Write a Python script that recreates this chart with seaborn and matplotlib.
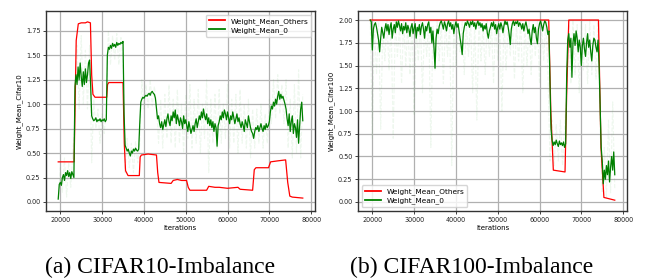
import numpy as np
import pandas as pd
import matplotlib
matplotlib.use("Agg")
import matplotlib.pyplot as plt
import seaborn as sns

# ---------------- data ----------------
# CIFAR10 - smoothed Weight_Mean_Others (breakpoints)
c10_others_iters = [19500, 23300, 23500, 23800, 24300, 25000, 26000, 26500, 27200, 27500,
                    27800, 28300, 31100, 31300, 31600, 33000, 35000, 35300, 35600, 36200,
                    38900, 39100, 39400, 41000, 43000, 43300, 43600, 46500, 47000, 48000,
                    49000, 50200, 50600, 51000, 53000, 55000, 55500, 57000, 58000, 60000,
                    62500, 63000, 66000, 66400, 66800, 68000, 69800, 70300, 72000, 73900,
                    74400, 74900, 75500, 78000]
c10_others_vals = [0.41, 0.41, 0.90, 1.65, 1.82, 1.83, 1.83, 1.84, 1.83, 1.30,
                   1.10, 1.07, 1.07, 1.20, 1.22, 1.22, 1.22, 0.60, 0.32, 0.27,
                   0.27, 0.46, 0.48, 0.49, 0.48, 0.30, 0.20, 0.19, 0.22, 0.23,
                   0.22, 0.22, 0.15, 0.12, 0.12, 0.12, 0.16, 0.15, 0.15, 0.14,
                   0.15, 0.13, 0.12, 0.33, 0.35, 0.35, 0.35, 0.41, 0.42, 0.43,
                   0.20, 0.06, 0.05, 0.04]

# CIFAR10 - smoothed Weight_Mean_0, every 250 iterations from 19500 to 78000
c10_zero_vals = [
    0.03, 0.18, 0.20, 0.17, 0.25, 0.28, 0.22, 0.30, 0.27, 0.32, 0.26, 0.30, 0.24, 0.31, 0.28, 0.25,
    1.18, 1.30, 1.20, 1.38, 1.25, 1.42, 1.28, 1.18, 1.33, 1.20, 1.36, 1.22, 1.30, 1.42, 1.45, 1.20,
    0.88, 0.85, 0.83, 0.84, 0.86, 0.82, 0.84, 0.83, 0.85, 0.82, 0.84, 0.83, 0.85, 0.82, 0.84,
    1.50, 1.58, 1.56, 1.60, 1.57, 1.62, 1.59, 1.61, 1.58, 1.63, 1.60, 1.62, 1.61, 1.63, 1.62, 1.64,
    0.90, 0.58, 0.55, 0.52, 0.54, 0.50, 0.47, 0.52, 0.50, 0.54, 0.52, 0.55, 0.53, 0.52, 0.54,
    0.80, 1.02, 1.05, 1.07, 1.06, 1.08, 1.09, 1.08, 1.10, 1.11, 1.09, 1.12, 1.13, 1.11, 1.10, 1.06,
    0.95, 0.85, 0.88, 0.80, 0.76, 0.82, 0.74, 0.79, 0.84, 0.77, 0.85, 0.90, 0.82, 0.78, 0.88, 0.83,
    0.92, 0.86, 0.94, 0.80, 0.89, 0.84, 0.78, 0.86, 0.82, 0.75, 0.88, 0.80, 0.84, 0.78, 0.72, 0.82,
    0.76, 0.70, 0.74, 0.78, 0.72, 0.80, 0.85, 0.76, 0.82, 0.88, 0.84, 0.92, 0.86, 0.95, 0.88, 0.84,
    0.90, 0.80, 0.86, 0.78, 0.84, 0.76, 0.82, 0.72, 0.80, 0.76, 0.57, 0.78, 0.82, 0.88, 0.84, 0.92,
    0.86, 0.94, 0.90, 0.84, 0.92, 0.86, 0.80, 0.88, 0.84, 0.92, 0.86, 0.80, 0.85, 0.90, 0.82, 0.86,
    0.80, 0.76, 0.82, 0.78, 0.72, 0.84, 0.80, 0.76, 0.88, 0.82, 0.76, 0.72, 0.70,
    0.65, 0.72, 0.76, 0.74, 0.78, 0.72, 0.76, 0.80, 0.75, 0.72, 0.78, 0.74, 0.80, 0.76, 0.78, 0.82,
    0.92, 0.98, 0.95, 1.02, 0.98, 1.05, 1.00, 1.08, 1.13, 1.05, 1.10, 1.06, 1.08, 1.04, 1.00, 0.95,
    0.85, 0.78, 0.90, 0.72, 0.82, 0.88, 0.70, 0.80, 0.76, 0.66, 0.84, 0.60, 0.78, 0.95, 1.02, 0.83,
]

# CIFAR10 - raw (faint) Weight_Mean_0, every 500 iterations from 19500 to 78000
c10_zero_raw = [
    0.02, 0.35, 0.10, 0.45, 0.05, 0.40, 0.15, 0.50,
    0.90, 1.60, 0.95, 1.70, 1.00, 1.55, 0.95, 1.60,
    0.40, 1.05, 0.75, 0.95, 0.60, 0.90, 0.70, 0.95,
    1.75, 1.40, 1.70, 1.45, 1.72, 1.40, 1.68, 1.45,
    0.30, 0.65, 0.35, 0.60, 0.30, 0.62, 0.40,
    0.60, 1.25, 0.95, 1.20, 0.95, 1.25, 0.98, 1.18,
    1.00, 0.60, 1.05, 0.55, 1.10, 0.65, 1.20, 0.60, 1.05, 0.55,
    1.15, 0.60, 1.00, 0.50, 1.10, 0.65, 1.20, 0.55, 1.05, 0.60,
    1.15, 0.50, 1.00, 0.65, 1.25, 0.30, 1.05, 0.60, 1.10, 0.55,
    1.15, 0.60, 1.00, 0.65, 1.20, 0.55, 1.05, 0.60, 1.10, 0.50,
    1.15, 0.60, 1.00, 0.55, 1.05, 0.45, 0.95,
    0.55, 0.95, 0.60, 1.00, 0.55, 0.90, 0.60, 1.05,
    0.80, 1.25, 0.85, 1.30, 0.90, 1.20, 0.80, 1.25,
    0.55, 1.05, 0.45, 1.20, 0.50, 1.35, 0.45, 1.10,
]

# CIFAR100 - smoothed Weight_Mean_Others (breakpoints)
c100_others_iters = [19500, 30000, 45000, 62200, 62700, 63300, 66100, 66500, 67000,
                     70000, 74100, 74700, 75400, 78000]
c100_others_vals = [2.00, 2.00, 2.00, 2.00, 1.00, 0.35, 0.33, 1.20, 2.00,
                    2.00, 2.00, 0.60, 0.05, 0.02]

# CIFAR100 - smoothed Weight_Mean_0, every 250 iterations from 19500 to 78000
c100_zero_vals = [
    2.00, 1.98, 1.67, 1.90, 1.95, 1.97, 1.92, 1.85, 1.78, 1.65, 1.80, 1.92, 1.86, 1.80, 1.90, 1.96,
    1.88, 1.95, 1.84, 1.92, 1.97, 1.80, 1.90, 1.95, 1.86, 1.98, 1.92, 1.99, 1.94, 1.88, 1.96, 1.85,
    1.93, 1.89, 1.97, 1.86, 1.94, 1.90, 1.82, 1.92, 1.96, 1.85, 1.91, 1.96, 1.80, 1.92, 1.88, 1.95,
    1.84, 1.93, 1.97, 1.90, 1.80, 1.93, 1.88, 1.95, 1.98, 1.86, 1.92, 1.75, 1.88, 1.70, 1.47, 1.80,
    1.90, 1.85, 1.93, 1.97, 1.99, 1.95, 1.90, 1.98, 1.94, 1.88, 1.96, 1.99, 1.93, 1.97, 1.90, 1.95,
    1.85, 1.93, 1.98, 1.92, 1.96, 1.88, 1.80, 1.72, 1.62, 1.85, 1.92, 1.97, 1.94, 1.99, 1.96, 1.92,
    1.98, 1.95, 1.99, 1.93, 1.97, 1.90, 1.96, 1.99, 1.94, 1.97, 1.92, 1.96, 1.88, 1.94, 1.90, 1.96,
    1.86, 1.80, 1.88, 1.92, 1.97, 1.93, 1.98, 1.90, 1.95, 1.85, 1.92, 1.96, 1.90, 1.97, 1.93, 1.86,
    1.94, 1.99, 1.95, 1.98, 1.92, 1.84, 1.73, 1.90, 1.96, 1.99, 1.94, 1.98, 1.96, 1.99, 1.93, 1.97,
    1.95, 1.90, 1.96, 1.88, 1.94, 1.98, 1.92, 1.85, 1.90, 1.80, 1.73, 1.88, 1.95, 1.86, 1.92, 1.80,
    1.74, 1.90, 1.96, 1.99, 1.94, 1.88, 1.95, 1.99, 1.97, 1.92, 1.84, 1.88,
    1.30, 0.80, 0.68, 0.62, 0.66, 0.63, 0.68, 0.64, 0.61, 0.67, 0.63, 0.65, 0.62, 0.66, 0.60, 0.64,
    1.40, 1.78, 1.85, 1.70, 1.80, 1.37, 1.75, 1.85, 1.72, 1.88, 1.80, 1.65, 1.78, 1.70, 1.50, 1.72,
    1.80, 1.68, 1.60, 1.75, 1.85, 1.70, 1.78, 1.65, 1.55, 1.72, 1.80, 1.78, 1.70, 1.65, 1.78,
    1.50, 1.05, 0.60, 0.45, 0.20, 0.35, 0.25, 0.40, 0.30, 0.45, 0.22, 0.38, 0.50, 0.35, 0.55, 0.30,
]

# CIFAR100 - raw (faint) Weight_Mean_0, every 500 iterations from 19500 to 78000
c100_zero_raw = [
    2.00, 0.70, 1.95, 1.40, 1.98, 0.80, 1.90, 1.55, 2.00, 1.45,
    1.96, 0.70, 1.99, 1.60, 1.92, 1.30, 2.00, 1.50, 1.95, 1.40,
    1.98, 0.95, 1.90, 1.55, 2.00, 1.20, 1.96, 1.60, 1.99, 0.60,
    1.93, 1.45, 2.00, 1.55, 1.97, 1.30, 1.99, 1.60, 1.94, 0.40,
    2.00, 1.50, 1.96, 1.65, 1.98, 1.40, 1.95, 1.60, 2.00, 1.20,
    1.97, 0.90, 1.99, 1.55, 1.94, 1.40, 2.00, 1.60, 1.96, 1.30,
    1.98, 1.55, 1.93, 1.00, 2.00, 1.45, 1.97, 1.60, 1.99, 1.35,
    1.95, 1.55, 2.00, 1.20, 1.96, 1.50, 1.99, 1.40, 1.94, 1.60,
    2.00, 1.30, 1.97, 1.55, 1.99, 1.45,
    0.45, 0.90, 0.40, 0.85, 0.45, 0.90, 0.40, 0.80,
    1.20, 1.95, 1.30, 2.00, 1.40, 1.95, 1.20, 1.98, 1.45, 1.95, 1.30, 2.00, 1.40, 1.95, 1.35, 1.98,
    0.80, 0.10, 0.60, 0.05, 0.90, 0.10, 1.10, 0.15,
]

start_iter, end_iter = 19500, 78000
ylabels = ["Weight_Mean_Cifar10", "Weight_Mean_Cifar100"]
captions = ["(a) CIFAR10-Imbalance", "(b) CIFAR100-Imbalance"]
series_names = ["Weight_Mean_Others", "Weight_Mean_0"]

# ---------------- figure ----------------
plt.rcParams["font.family"] = ["DejaVu Sans"]
fig = plt.figure(figsize=(6.52, 2.79), dpi=100)
ax1 = fig.add_axes([46 / 652, 1 - 211 / 279, 269 / 652, 200 / 279])
ax2 = fig.add_axes([358 / 652, 1 - 211 / 279, 269 / 652, 200 / 279])

panels = [
    (ax1, c10_others_iters, c10_others_vals, c10_zero_vals, c10_zero_raw, "upper right", (-0.092, 1.951)),
    (ax2, c100_others_iters, c100_others_vals, c100_zero_vals, c100_zero_raw, "lower left", (-0.099, 2.099)),
]

for i, (ax, oi, ov, zv, zr, loc, ylim) in enumerate(panels):
    zx = np.linspace(start_iter, end_iter, len(zv))
    rx = np.linspace(start_iter, end_iter, len(zr))
    # faint raw curve
    sns.lineplot(x=rx, y=zr, ax=ax, color="#5cb85c", alpha=0.10, lw=0.8,
                 linestyle="--", legend=False)
    sns.lineplot(x=oi, y=ov, ax=ax, color="red", lw=0.9, label=series_names[0])
    sns.lineplot(x=zx, y=zv, ax=ax, color="green", lw=0.9, label=series_names[1])

    ax.set_ylim(*ylim)
    ax.grid(True, color="#b0b0b0", lw=0.9)
    ax.set_axisbelow(True)
    for s in ax.spines.values():
        s.set_color("#333333")
        s.set_linewidth(1.0)
    ax.tick_params(labelsize=4.7, length=2.5, width=0.6, pad=1.5, colors="#222222")
    ax.set_xlabel("Iterations", fontsize=5, labelpad=1.5)
    ax.set_ylabel(ylabels[i], fontsize=5, labelpad=2)
    ax.set_xticks([20000, 30000, 40000, 50000, 60000, 70000, 80000])
    leg = ax.legend(loc=loc, fontsize=5.3, frameon=True, handlelength=2.2,
                    borderpad=0.4, labelspacing=0.3)
    for h in leg.get_lines():
        h.set_linewidth(1.3)

ax1.set_yticks([0.0, 0.25, 0.5, 0.75, 1.0, 1.25, 1.5, 1.75])
ax2.set_yticks([0.0, 0.25, 0.5, 0.75, 1.0, 1.25, 1.5, 1.75, 2.0])
ax1.yaxis.set_major_formatter(matplotlib.ticker.FormatStrFormatter("%.2f"))
ax2.yaxis.set_major_formatter(matplotlib.ticker.FormatStrFormatter("%.2f"))

fig.text(160.5 / 652, 1 - 267 / 279, captions[0], ha="center", va="center",
         family=["Liberation Serif"], fontsize=17)
fig.text(472 / 652, 1 - 267 / 279, captions[1], ha="center", va="center",
         family=["Liberation Serif"], fontsize=17)

fig.savefig("out.png", dpi=100)
